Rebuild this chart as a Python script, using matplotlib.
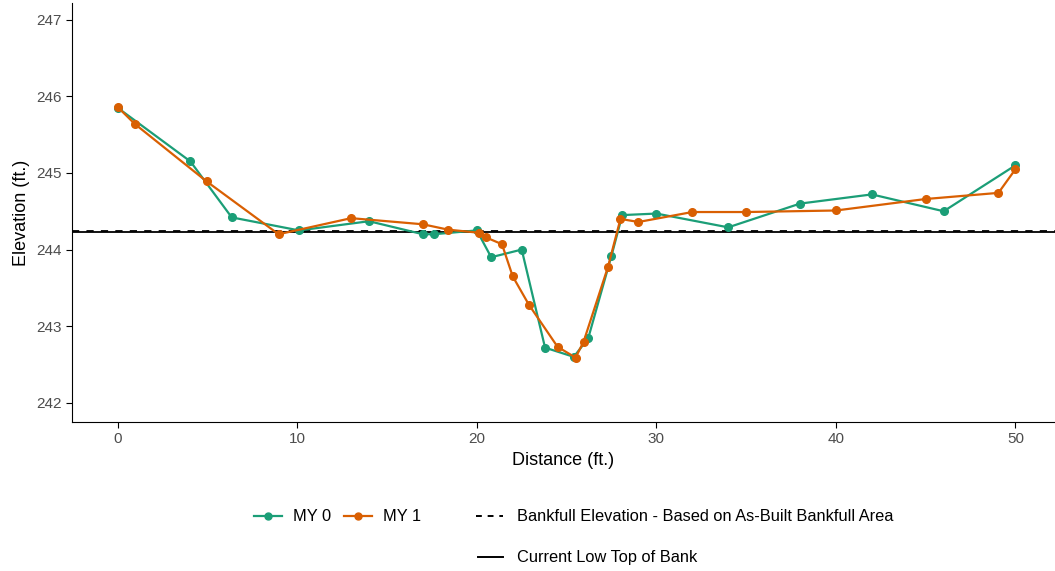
import matplotlib
matplotlib.use("Agg")
import matplotlib.pyplot as plt
from matplotlib.lines import Line2D

plt.rcParams['font.family'] = ['Liberation Sans', 'DejaVu Sans']

# survey data
my0_dist = [0, 4.05, 6.35, 10.1, 14.0, 17.0, 17.6, 20.0, 20.8, 22.5, 23.8, 25.4,
            26.2, 27.5, 28.1, 30.0, 34.0, 38.0, 42.0, 46.0, 50.0]
my0_elev = [245.85, 245.15, 244.42, 244.25, 244.37, 244.2, 244.2, 244.25, 243.9, 244.0,
            242.72, 242.6, 242.84, 243.92, 244.45, 244.47, 244.29, 244.6, 244.72, 244.5, 245.1]

my1_dist = [0, 0.95, 4.95, 8.96, 13.0, 17.0, 18.4, 20.1, 20.5, 21.4, 22.0, 22.9, 24.5,
            25.5, 25.95, 27.3, 28.0, 29.0, 32.0, 35.0, 40.0, 45.0, 49.05, 50.0]
my1_elev = [245.86, 245.64, 244.89, 244.2, 244.41, 244.33, 244.26, 244.22, 244.16, 244.07,
            243.65, 243.28, 242.73, 242.59, 242.8, 243.77, 244.4, 244.36, 244.49, 244.49,
            244.51, 244.66, 244.74, 245.05]

bankfull_elev = 244.245
low_top_bank = 244.225

green = '#1B9E77'
orange = '#D95F02'

fig = plt.figure(figsize=(10.55, 5.71), dpi=100)
ax = fig.add_axes([0.068, 0.261, 0.932, 0.734])

ax.axhline(low_top_bank, color='black', lw=1.3, ls='-')
ax.axhline(bankfull_elev, color='black', lw=1.3, ls=(0, (4, 4)))
ax.plot(my0_dist, my0_elev, color=green, lw=1.6, marker='o', ms=5.5)
ax.plot(my1_dist, my1_elev, color=orange, lw=1.6, marker='o', ms=5.5)

ax.set_xlim(-2.56, 52.2)
ax.set_ylim(241.75, 247.22)
ax.set_xticks([0, 10, 20, 30, 40, 50])
ax.set_yticks([242, 243, 244, 245, 246, 247])
ax.spines['top'].set_visible(False)
ax.spines['right'].set_visible(False)
ax.tick_params(labelsize=11, length=4, labelcolor='#4d4d4d', color='black')
ax.set_xlabel('Distance (ft.)', fontsize=13)
ax.set_ylabel('Elevation (ft.)', fontsize=13)

h_my = [Line2D([], [], color=green, marker='o', ms=5, lw=1.6),
        Line2D([], [], color=orange, marker='o', ms=5, lw=1.6)]
fig.legend(h_my, ['MY 0', 'MY 1'], ncol=2, loc='center', bbox_to_anchor=(0.32, 0.095),
           frameon=False, fontsize=11.8, handlelength=1.75, handletextpad=0.67, columnspacing=0.75)
fig.legend([Line2D([], [], color='black', lw=1.4, ls=(0, (3, 3)))],
           ['Bankfull Elevation - Based on As-Built Bankfull Area'],
           loc='center', bbox_to_anchor=(0.649, 0.095), frameon=False, fontsize=11.8,
           handlelength=1.65, handletextpad=0.85)
fig.legend([Line2D([], [], color='black', lw=1.4)], ['Current Low Top of Bank'],
           loc='center', bbox_to_anchor=(0.557, 0.023), frameon=False, fontsize=11.8,
           handlelength=1.5, handletextpad=0.85)

fig.savefig('out.png', dpi=100)
